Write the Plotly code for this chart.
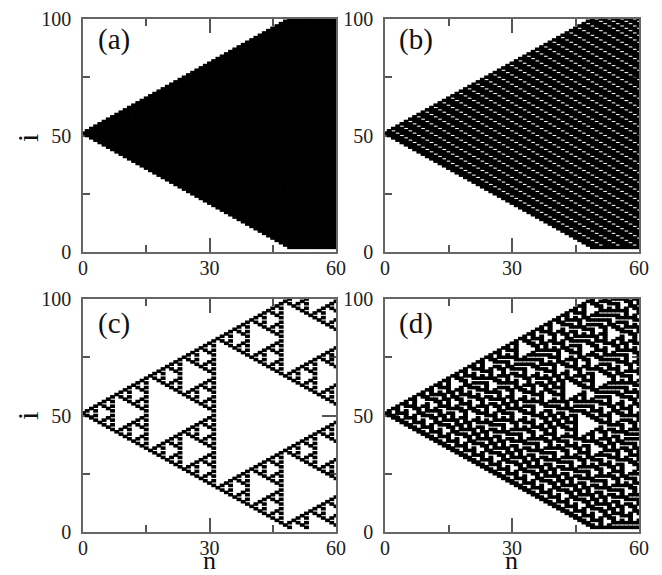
import plotly.graph_objects as go

# lowest and highest occupied site per step n (panel a, also the envelope of panel b)
a_low = [51, 50, 49, 48, 47, 46, 45, 44, 43, 42, 41, 40, 39, 38, 37, 36, 35, 34, 33, 32, 31,
         30, 29, 28, 27, 26, 25, 24, 23, 22, 21, 20, 19, 18, 17, 16, 15, 14, 13, 12, 11,
         10, 9, 8, 7, 6, 5, 4, 3, 2, 2, 2, 2, 2, 2, 2, 2, 2, 2, 2, 2]
a_high = [51, 52, 53, 54, 55, 56, 57, 58, 59, 60, 61, 62, 63, 64, 65, 66, 67, 68, 69, 70, 71,
          72, 73, 74, 75, 76, 77, 78, 79, 80, 81, 82, 83, 84, 85, 86, 87, 88, 89, 90, 91,
          92, 93, 94, 95, 96, 97, 98, 99, 100, 100, 100, 100, 100, 100, 100, 100, 100, 100, 100, 100]

# panel b: empty sites per step, as offset from the centre site
center_site = 51
b_white = [
    [], [], [1], [0], [-1, 3], [-2, 2], [-3, 1, 5], [-4, 0, 4], [-5, -1, 3, 7], [-6, -2, 2, 6],
    [-7, -3, 1, 5, 9], [-8, -4, 0, 4, 8], [-9, -5, -1, 3, 7, 11], [-10, -6, -2, 2, 6, 10],
    [-11, -7, -3, 1, 5, 9, 13], [-12, -8, -4, 0, 4, 8, 12], [-13, -9, -5, -1, 3, 7, 11, 15],
    [-14, -10, -6, -2, 2, 6, 10, 14], [-15, -11, -7, -3, 1, 5, 9, 13, 17],
    [-16, -12, -8, -4, 0, 4, 8, 12, 16], [-17, -13, -9, -5, -1, 3, 7, 11, 15, 19],
    [-18, -14, -10, -6, -2, 2, 6, 10, 14, 18], [-19, -15, -11, -7, -3, 1, 5, 9, 13, 17, 21],
    [-20, -16, -12, -8, -4, 0, 4, 8, 12, 16, 20], [-21, -17, -13, -9, -5, -1, 3, 7, 11, 15, 19, 23],
    [-22, -18, -14, -10, -6, -2, 2, 6, 10, 14, 18, 22],
    [-23, -19, -15, -11, -7, -3, 1, 5, 9, 13, 17, 21, 25],
    [-24, -20, -16, -12, -8, -4, 0, 4, 8, 12, 16, 20, 24],
    [-25, -21, -17, -13, -9, -5, -1, 3, 7, 11, 15, 19, 23, 27],
    [-26, -22, -18, -14, -10, -6, -2, 2, 6, 10, 14, 18, 22, 26],
    [-27, -23, -19, -15, -11, -7, -3, 1, 5, 9, 13, 17, 21, 25, 29],
    [-28, -24, -20, -16, -12, -8, -4, 0, 4, 8, 12, 16, 20, 24, 28],
    [-29, -25, -21, -17, -13, -9, -5, -1, 3, 7, 11, 15, 19, 23, 27, 31],
    [-30, -26, -22, -18, -14, -10, -6, -2, 2, 6, 10, 14, 18, 22, 26, 30],
    [-31, -27, -23, -19, -15, -11, -7, -3, 1, 5, 9, 13, 17, 21, 25, 29, 33],
    [-32, -28, -24, -20, -16, -12, -8, -4, 0, 4, 8, 12, 16, 20, 24, 28, 32],
    [-33, -29, -25, -21, -17, -13, -9, -5, -1, 3, 7, 11, 15, 19, 23, 27, 31, 35],
    [-34, -30, -26, -22, -18, -14, -10, -6, -2, 2, 6, 10, 14, 18, 22, 26, 30, 34],
    [-35, -31, -27, -23, -19, -15, -11, -7, -3, 1, 5, 9, 13, 17, 21, 25, 29, 33, 37],
    [-36, -32, -28, -24, -20, -16, -12, -8, -4, 0, 4, 8, 12, 16, 20, 24, 28, 32, 36],
    [-37, -33, -29, -25, -21, -17, -13, -9, -5, -1, 3, 7, 11, 15, 19, 23, 27, 31, 35, 39],
    [-38, -34, -30, -26, -22, -18, -14, -10, -6, -2, 2, 6, 10, 14, 18, 22, 26, 30, 34, 38],
    [-39, -35, -31, -27, -23, -19, -15, -11, -7, -3, 1, 5, 9, 13, 17, 21, 25, 29, 33, 37, 41],
    [-40, -36, -32, -28, -24, -20, -16, -12, -8, -4, 0, 4, 8, 12, 16, 20, 24, 28, 32, 36, 40],
    [-41, -37, -33, -29, -25, -21, -17, -13, -9, -5, -1, 3, 7, 11, 15, 19, 23, 27, 31, 35, 39, 43],
    [-42, -38, -34, -30, -26, -22, -18, -14, -10, -6, -2, 2, 6, 10, 14, 18, 22, 26, 30, 34, 38, 42],
    [-43, -39, -35, -31, -27, -23, -19, -15, -11, -7, -3, 1, 5, 9, 13, 17, 21, 25, 29, 33, 37, 41, 45],
    [-44, -40, -36, -32, -28, -24, -20, -16, -12, -8, -4, 0, 4, 8, 12, 16, 20, 24, 28, 32, 36, 40, 44],
    [-45, -41, -37, -33, -29, -25, -21, -17, -13, -9, -5, -1, 3, 7, 11, 15, 19, 23, 27, 31, 35, 39, 43, 47],
    [-46, -42, -38, -34, -30, -26, -22, -18, -14, -10, -6, -2, 2, 6, 10, 14, 18, 22, 26, 30, 34, 38, 42, 46],
    [-47, -43, -39, -35, -31, -27, -23, -19, -15, -11, -7, -3, 1, 5, 9, 13, 17, 21, 25, 29, 33, 37, 41, 45, 49],
    [-48, -44, -40, -36, -32, -28, -24, -20, -16, -12, -8, -4, 0, 4, 8, 12, 16, 20, 24, 28, 32, 36, 40, 44, 48],
    [-45, -41, -37, -33, -29, -25, -21, -17, -13, -9, -5, -1, 3, 7, 11, 15, 19, 23, 27, 31, 35, 39, 43, 47],
    [-46, -42, -38, -34, -30, -26, -22, -18, -14, -10, -6, -2, 2, 6, 10, 14, 18, 22, 26, 30, 34, 38, 42, 46, 49],
    [-47, -43, -39, -35, -31, -27, -23, -19, -15, -11, -7, -3, 1, 5, 9, 13, 17, 21, 25, 29, 33, 37, 41, 45, 48],
    [-48, -44, -40, -36, -32, -28, -24, -20, -16, -12, -8, -4, 0, 4, 8, 12, 16, 20, 24, 28, 32, 36, 40, 44, 47],
    [-45, -41, -37, -33, -29, -25, -21, -17, -13, -9, -5, -1, 3, 7, 11, 15, 19, 23, 27, 31, 35, 39, 43, 46, 49],
    [-46, -42, -38, -34, -30, -26, -22, -18, -14, -10, -6, -2, 2, 6, 10, 14, 18, 22, 26, 30, 34, 38, 42, 45, 48],
    [-47, -43, -39, -35, -31, -27, -23, -19, -15, -11, -7, -3, 1, 5, 9, 13, 17, 21, 25, 29, 33, 37, 41, 44, 47],
    [-48, -44, -40, -36, -32, -28, -24, -20, -16, -12, -8, -4, 0, 4, 8, 12, 16, 20, 24, 28, 32, 36, 40, 43, 46, 49],
    [-45, -41, -37, -33, -29, -25, -21, -17, -13, -9, -5, -1, 3, 7, 11, 15, 19, 23, 27, 31, 35, 39, 42, 45, 48],
]

# panel c: occupied sites per step, as +/- offset from the centre site
c_offsets = [
    [0], [1], [2], [1, 3], [4], [3, 5], [2, 6], [1, 3, 5, 7], [8], [7, 9], [6, 10], [5, 7, 9, 11],
    [4, 12], [3, 5, 11, 13], [2, 6, 10, 14], [1, 3, 5, 7, 9, 11, 13, 15], [16], [15, 17], [14, 18],
    [13, 15, 17, 19], [12, 20], [11, 13, 19, 21], [10, 14, 18, 22], [9, 11, 13, 15, 17, 19, 21, 23],
    [8, 24], [7, 9, 23, 25], [6, 10, 22, 26], [5, 7, 9, 11, 21, 23, 25, 27], [4, 12, 20, 28],
    [3, 5, 11, 13, 19, 21, 27, 29], [2, 6, 10, 14, 18, 22, 26, 30],
    [1, 3, 5, 7, 9, 11, 13, 15, 17, 19, 21, 23, 25, 27, 29, 31], [32], [31, 33], [30, 34],
    [29, 31, 33, 35], [28, 36], [27, 29, 35, 37], [26, 30, 34, 38], [25, 27, 29, 31, 33, 35, 37, 39],
    [24, 40], [23, 25, 39, 41], [22, 26, 38, 42], [21, 23, 25, 27, 37, 39, 41, 43], [20, 28, 36, 44],
    [19, 21, 27, 29, 35, 37, 43, 45], [18, 22, 26, 30, 34, 38, 42, 46],
    [17, 19, 21, 23, 25, 27, 29, 31, 33, 35, 37, 39, 41, 43, 45, 47], [16, 48], [15, 17, 47, 49],
    [14, 18, 46], [13, 15, 17, 19, 45, 47], [12, 20, 44, 48], [11, 13, 19, 21, 43, 45, 47, 49],
    [10, 14, 18, 22, 42], [9, 11, 13, 15, 17, 19, 21, 23, 41, 43], [8, 24, 40, 44],
    [7, 9, 23, 25, 39, 41, 43, 45], [6, 10, 22, 26, 38, 46], [5, 7, 9, 11, 21, 23, 25, 27, 37, 39, 45, 47],
    [4, 12, 20, 28, 36, 40, 44, 48],
]

# panel d: alternating occupied/empty run lengths per step, starting at the lowest site
d_runs = [
    [1], [3], [2, 2, 1], [2, 1, 4], [2, 2, 1, 3, 1], [2, 1, 4, 1, 3], [2, 2, 1, 4, 1, 2, 1], [2, 1, 4, 2, 6],
    [2, 2, 1, 3, 3, 5, 1], [2, 1, 4, 1, 2, 2, 1, 3, 3], [2, 2, 1, 4, 1, 1, 4, 1, 2, 2, 1],
    [2, 1, 4, 2, 2, 1, 1, 4, 1, 1, 4], [2, 2, 1, 3, 3, 2, 2, 2, 2, 1, 1, 3, 1],
    [2, 1, 4, 1, 2, 2, 3, 1, 3, 2, 2, 1, 3], [2, 2, 1, 4, 1, 1, 3, 3, 1, 2, 3, 2, 1, 2, 1],
    [2, 1, 4, 2, 2, 1, 1, 2, 1, 1, 5, 2, 7], [2, 2, 1, 3, 3, 2, 4, 1, 1, 4, 3, 6, 1],
    [2, 1, 4, 1, 2, 2, 3, 4, 2, 2, 2, 2, 1, 4, 3],
    [2, 2, 1, 4, 1, 1, 3, 2, 1, 2, 2, 1, 3, 1, 4, 2, 2, 2, 1],
    [2, 1, 4, 2, 2, 1, 1, 2, 6, 2, 1, 3, 1, 3, 3, 1, 4],
    [2, 2, 1, 3, 3, 2, 4, 5, 4, 1, 3, 1, 2, 3, 1, 3, 1],
    [2, 1, 4, 1, 2, 2, 3, 3, 1, 3, 2, 4, 1, 3, 1, 1, 1, 1, 3, 1, 3],
    [2, 2, 1, 4, 1, 1, 3, 2, 1, 1, 3, 1, 2, 1, 1, 2, 3, 1, 2, 1, 1, 1, 1, 3, 1, 2, 1],
    [2, 1, 4, 2, 2, 1, 1, 2, 3, 1, 1, 3, 1, 2, 4, 3, 1, 2, 1, 1, 2, 1, 6],
    [2, 2, 1, 3, 3, 2, 4, 3, 2, 1, 5, 3, 1, 1, 5, 1, 1, 2, 1, 5, 1],
    [2, 1, 4, 1, 2, 2, 3, 3, 1, 1, 2, 2, 1, 4, 1, 1, 2, 1, 1, 5, 5, 3, 3],
    [2, 2, 1, 4, 1, 1, 3, 2, 1, 1, 2, 1, 1, 1, 4, 2, 2, 1, 1, 2, 2, 3, 2, 4, 1, 1, 2, 2, 1],
    [2, 1, 4, 2, 2, 1, 1, 2, 3, 1, 1, 2, 1, 1, 1, 3, 3, 2, 4, 1, 1, 1, 2, 1, 1, 2, 2, 1, 1, 1, 4],
    [2, 2, 1, 3, 3, 2, 4, 3, 4, 1, 2, 1, 2, 2, 3, 4, 1, 1, 1, 2, 4, 2, 1, 1, 1, 3, 1],
    [2, 1, 4, 1, 2, 2, 3, 3, 1, 1, 2, 4, 1, 2, 1, 1, 3, 2, 1, 2, 2, 1, 4, 3, 3, 1, 2, 1, 3],
    [2, 2, 1, 4, 1, 1, 3, 2, 1, 1, 2, 1, 1, 1, 1, 2, 5, 1, 1, 2, 6, 2, 1, 3, 1, 1, 2, 3, 1, 2, 1, 2, 1],
    [2, 1, 4, 2, 2, 1, 1, 2, 3, 1, 1, 2, 1, 1, 4, 5, 4, 5, 4, 1, 2, 1, 1, 1, 1, 1, 9],
    [2, 2, 1, 3, 3, 2, 4, 3, 4, 1, 1, 3, 1, 3, 2, 3, 1, 3, 2, 4, 1, 2, 1, 1, 1, 1, 1, 8, 1],
    [2, 1, 4, 1, 2, 2, 3, 3, 1, 1, 2, 4, 2, 1, 3, 1, 2, 1, 1, 1, 3, 1, 2, 1, 1, 2, 5, 1, 1, 1, 2, 6, 3],
    [2, 2, 1, 4, 1, 1, 3, 2, 1, 1, 2, 1, 1, 1, 1, 2, 2, 2, 1, 3, 1, 2, 1, 1, 1, 3, 1, 2, 4, 5, 1, 1, 1, 1, 1, 4, 2, 2, 1],
    [2, 1, 4, 2, 2, 1, 1, 2, 3, 1, 1, 2, 1, 1, 4, 1, 4, 1, 5, 1, 2, 1, 5, 3, 1, 3, 2, 1, 1, 1, 2, 2, 2, 1, 4],
    [2, 2, 1, 3, 3, 2, 4, 3, 4, 1, 1, 4, 1, 4, 1, 5, 1, 2, 1, 4, 1, 1, 3, 1, 2, 2, 1, 1, 1, 1, 3, 2, 1, 3, 1],
    [2, 1, 4, 1, 2, 2, 3, 3, 1, 1, 2, 4, 2, 2, 3, 2, 3, 3, 6, 2, 2, 1, 1, 3, 1, 1, 3, 1, 1, 1, 1, 2, 4, 1, 3],
    [2, 2, 1, 4, 1, 1, 3, 2, 1, 1, 2, 1, 1, 1, 1, 2, 2, 1, 3, 2, 3, 2, 1, 1, 2, 5, 3, 2, 2, 1, 2, 1, 1, 3, 1, 1, 4, 4, 1, 2, 1],
    [2, 1, 4, 2, 2, 1, 1, 2, 3, 1, 1, 2, 1, 1, 4, 2, 1, 2, 3, 2, 3, 1, 1, 1, 1, 3, 2, 2, 3, 2, 1, 2, 2, 1, 2, 1, 1, 3, 1, 2, 6],
    [2, 2, 1, 3, 3, 2, 4, 3, 4, 1, 1, 3, 6, 2, 3, 3, 1, 1, 2, 1, 2, 1, 3, 2, 6, 2, 1, 2, 2, 1, 5, 5, 1],
    [2, 1, 4, 1, 2, 2, 3, 3, 1, 1, 2, 4, 2, 1, 2, 5, 3, 2, 1, 1, 2, 1, 1, 2, 1, 2, 1, 2, 3, 5, 6, 2, 1, 4, 1, 3, 3],
    [2, 2, 1, 4, 1, 1, 3, 2, 1, 1, 2, 1, 1, 1, 1, 2, 2, 2, 1, 1, 1, 3, 2, 2, 3, 1, 1, 2, 10, 2, 1, 3, 2, 5, 4, 2, 3, 1, 2, 2, 1],
    [2, 1, 4, 2, 2, 1, 1, 2, 3, 1, 1, 2, 1, 1, 4, 1, 3, 1, 2, 1, 2, 1, 3, 3, 4, 9, 4, 1, 2, 1, 1, 3, 2, 3, 3, 3, 1, 1, 4],
    [2, 2, 1, 3, 3, 2, 4, 3, 4, 1, 1, 4, 1, 3, 1, 2, 1, 2, 1, 2, 1, 1, 2, 3, 1, 7, 2, 4, 1, 2, 2, 1, 2, 1, 1, 1, 2, 2, 1, 1, 2, 1, 1, 3, 1],
    [2, 1, 4, 1, 2, 2, 3, 3, 1, 1, 2, 4, 2, 2, 3, 1, 11, 1, 1, 1, 1, 1, 3, 5, 2, 1, 1, 2, 5, 2, 1, 2, 1, 1, 1, 1, 3, 1, 1, 2, 2, 1, 3],
    [2, 2, 1, 4, 1, 1, 3, 2, 1, 1, 2, 1, 1, 1, 1, 2, 2, 1, 3, 3, 1, 11, 1, 1, 1, 1, 1, 2, 1, 3, 2, 2, 4, 4, 6, 1, 1, 1, 1, 3, 4, 2, 1, 2, 1],
    [2, 1, 4, 2, 2, 1, 1, 2, 3, 1, 1, 2, 1, 1, 4, 2, 1, 2, 1, 1, 3, 9, 2, 1, 1, 1, 5, 1, 2, 1, 3, 3, 1, 2, 2, 6, 1, 1, 2, 1, 2, 3, 7],
    [2, 2, 1, 3, 3, 2, 4, 3, 4, 1, 1, 3, 6, 1, 1, 2, 1, 7, 2, 2, 1, 1, 1, 5, 1, 2, 1, 2, 1, 1, 5, 1, 1, 4, 2, 1, 1, 2, 1, 1, 1, 1, 2, 6, 1],
    [2, 1, 4, 1, 2, 2, 3, 3, 1, 1, 2, 4, 2, 1, 2, 6, 5, 5, 2, 1, 3, 1, 2, 3, 8, 1, 1, 5, 2, 2, 2, 2, 4, 1, 1, 1, 1, 1, 1, 4, 3],
    [1, 2, 1, 4, 1, 1, 3, 2, 1, 1, 2, 1, 1, 1, 1, 2, 2, 2, 1, 1, 1, 4, 2, 4, 1, 3, 2, 2, 1, 3, 1, 1, 1, 1, 2, 8, 2, 3, 2, 1, 3, 1, 3, 4, 1, 1, 1, 1, 2, 2, 2, 2],
    [5, 2, 2, 1, 1, 2, 3, 1, 1, 2, 1, 1, 4, 1, 3, 1, 2, 2, 2, 1, 1, 2, 3, 1, 2, 1, 4, 1, 2, 1, 1, 1, 1, 1, 1, 6, 2, 1, 1, 1, 2, 2, 1, 3, 1, 2, 1, 2, 2, 1, 1, 1, 1, 1, 3, 1, 1, 1],
    [1, 4, 3, 2, 4, 3, 4, 1, 1, 4, 1, 3, 1, 1, 3, 2, 4, 3, 1, 2, 1, 4, 1, 2, 1, 1, 1, 1, 2, 4, 2, 2, 1, 1, 1, 1, 4, 1, 8, 2, 1, 1, 1, 1, 1, 3, 2],
    [2, 2, 2, 2, 3, 3, 1, 1, 2, 4, 2, 2, 3, 1, 2, 1, 1, 2, 3, 3, 1, 1, 6, 2, 5, 1, 1, 1, 1, 1, 1, 2, 2, 1, 3, 1, 1, 1, 1, 4, 1, 7, 3, 1, 1, 1, 2, 1, 2, 1],
    [1, 1, 3, 1, 3, 2, 1, 1, 2, 1, 1, 1, 1, 2, 2, 1, 3, 3, 1, 2, 4, 2, 1, 1, 2, 1, 1, 5, 3, 5, 1, 1, 1, 1, 4, 2, 1, 3, 1, 1, 2, 2, 3, 5, 2, 3, 1, 1, 1, 2, 1, 1, 1],
    [1, 1, 1, 3, 1, 2, 3, 1, 1, 2, 1, 1, 4, 2, 1, 2, 1, 1, 5, 3, 3, 1, 1, 2, 2, 3, 2, 2, 1, 3, 2, 1, 1, 1, 1, 3, 4, 1, 2, 1, 1, 1, 3, 2, 1, 3, 2, 1, 1, 1, 2, 1, 4, 1, 1],
    [1, 1, 2, 1, 5, 3, 4, 1, 1, 3, 6, 1, 1, 4, 1, 1, 2, 3, 4, 1, 1, 1, 2, 1, 4, 1, 2, 2, 1, 1, 2, 1, 2, 4, 1, 2, 1, 1, 1, 2, 4, 1, 2, 2, 1, 1, 1, 2, 1, 4, 1],
    [1, 1, 1, 2, 1, 4, 1, 1, 2, 4, 2, 1, 2, 6, 2, 2, 2, 1, 1, 1, 1, 1, 2, 4, 1, 1, 1, 2, 1, 4, 1, 1, 3, 1, 1, 2, 1, 1, 1, 2, 5, 1, 4, 4, 1, 1, 3, 1, 5, 2, 2],
    [1, 1, 5, 2, 2, 1, 1, 1, 1, 2, 2, 2, 1, 1, 1, 4, 2, 1, 3, 2, 1, 1, 1, 1, 1, 1, 1, 2, 2, 1, 5, 2, 2, 1, 1, 3, 4, 1, 4, 5, 1, 3, 1, 2, 2, 1, 1, 3, 1, 4, 3, 1],
    [1, 1, 1, 4, 3, 2, 1, 1, 4, 1, 3, 1, 2, 2, 2, 2, 1, 2, 3, 1, 1, 1, 1, 1, 4, 2, 1, 4, 3, 2, 2, 1, 2, 4, 1, 3, 1, 3, 3, 1, 5, 2, 2, 1, 3, 2, 2, 2, 1],
    [1, 1, 2, 2, 2, 2, 3, 1, 1, 4, 1, 3, 1, 1, 3, 1, 6, 3, 1, 1, 1, 1, 1, 3, 4, 2, 2, 2, 3, 2, 1, 1, 1, 2, 3, 1, 3, 1, 2, 3, 1, 4, 3, 2, 1, 2, 3, 1, 3],
]

panel_labels = ["(a)", "(b)", "(c)", "(d)"]
x_ticks = [0, 30, 60]
y_ticks = [0, 50, 100]


def cells_a():
    xs, ys = [], []
    for n in range(len(a_low)):
        for i in range(a_low[n], a_high[n] + 1):
            xs.append(n)
            ys.append(i)
    return xs, ys


def cells_b():
    xs, ys = [], []
    for n in range(len(a_low)):
        white = [center_site + d for d in b_white[n]]
        for i in range(a_low[n], a_high[n] + 1):
            if i not in white:
                xs.append(n)
                ys.append(i)
    return xs, ys


def cells_c():
    xs, ys = [], []
    for n, offsets in enumerate(c_offsets):
        for d in offsets:
            xs += [n, n]
            ys += [center_site - d, center_site + d]
    return xs, ys


def cells_d():
    xs, ys = [], []
    for n, runs in enumerate(d_runs):
        i = a_low[n]
        for k, run in enumerate(runs):
            if k % 2 == 0:
                for j in range(i, i + run):
                    xs.append(n)
                    ys.append(j)
            i += run
    return xs, ys


fig = go.Figure()
panels = [cells_a(), cells_b(), cells_c(), cells_d()]
for p, (xs, ys) in enumerate(panels):
    suffix = "" if p == 0 else str(p + 1)
    fig.add_trace(go.Scatter(
        x=xs, y=ys, mode="markers", xaxis="x" + suffix, yaxis="y" + suffix,
        showlegend=False, hoverinfo="skip",
        marker=dict(symbol="line-ew", size=3.5, color="black", line=dict(width=3.6, color="black")),
    ))

# the page body keeps its 8px margin, so the figure is 8px smaller than the window
PAGE = 8
W, H = 662 - PAGE, 575 - PAGE
x_domains = [(83, 336), (385, 639)]
y_domains = [(19, 252), (299, 532)]
label_y = [0.913, 0.896]
TICK_FONT = dict(family="Liberation Serif", size=20, color="#222222")

for p in range(4):
    suffix = "" if p == 0 else str(p + 1)
    x0, x1 = x_domains[p % 2]
    y0, y1 = y_domains[p // 2]
    xaxis = dict(
        domain=[(x0 - PAGE) / W, (x1 - PAGE) / W], range=[0, 60], anchor="y" + suffix,
        tickmode="array", tickvals=x_ticks, ticks="inside", ticklen=14, tickwidth=1.5, tickcolor="#555555",
        minor=dict(tickvals=[15, 45], ticks="inside", ticklen=7, tickwidth=1.5, tickcolor="#555555"),
        showline=True, linecolor="#666666", linewidth=1.5, mirror="allticks",
        showgrid=False, zeroline=False, tickfont=TICK_FONT, layer="below traces", ticklabelstandoff=-3,
    )
    yaxis = dict(
        domain=[1 - (y1 - PAGE) / H, 1 - (y0 - PAGE) / H], range=[0, 100], anchor="x" + suffix,
        tickmode="array", tickvals=y_ticks, ticks="inside", ticklen=14, tickwidth=1.5, tickcolor="#555555",
        minor=dict(tickvals=[25, 75], ticks="inside", ticklen=7, tickwidth=1.5, tickcolor="#555555"),
        showline=True, linecolor="#666666", linewidth=1.5, mirror="allticks",
        showgrid=False, zeroline=False, tickfont=TICK_FONT, layer="below traces", ticklabelstandoff=6,
    )
    fig.update_layout({"xaxis" + suffix: xaxis, "yaxis" + suffix: yaxis})
    fig.add_annotation(
        text=panel_labels[p], xref="x" + suffix + " domain", yref="y" + suffix + " domain",
        x=0.122, y=label_y[p // 2], xanchor="center", yanchor="middle", showarrow=False,
        font=dict(family="Liberation Serif", size=29, color="#111111"),
    )

# axis names sit where the reference has them, only on the outer panels
for cx in [209, 511]:
    fig.add_annotation(text="n", xref="paper", yref="paper", x=(cx - PAGE) / W, y=1 - (560 - PAGE) / H,
                       xanchor="center", yanchor="middle", showarrow=False,
                       font=dict(family="Liberation Serif", size=26, color="#111111"))
for cy in [138, 416]:
    fig.add_annotation(text="i", xref="paper", yref="paper", x=(27 - PAGE) / W, y=1 - (cy - PAGE) / H,
                       xanchor="center", yanchor="middle", showarrow=False, textangle=-90,
                       font=dict(family="Liberation Serif", size=30, color="#111111"))

fig.update_layout(
    width=W, height=H, margin=dict(l=0, r=0, t=0, b=0, autoexpand=False),
    paper_bgcolor="white", plot_bgcolor="white",
)

fig.write_html("out.html")
